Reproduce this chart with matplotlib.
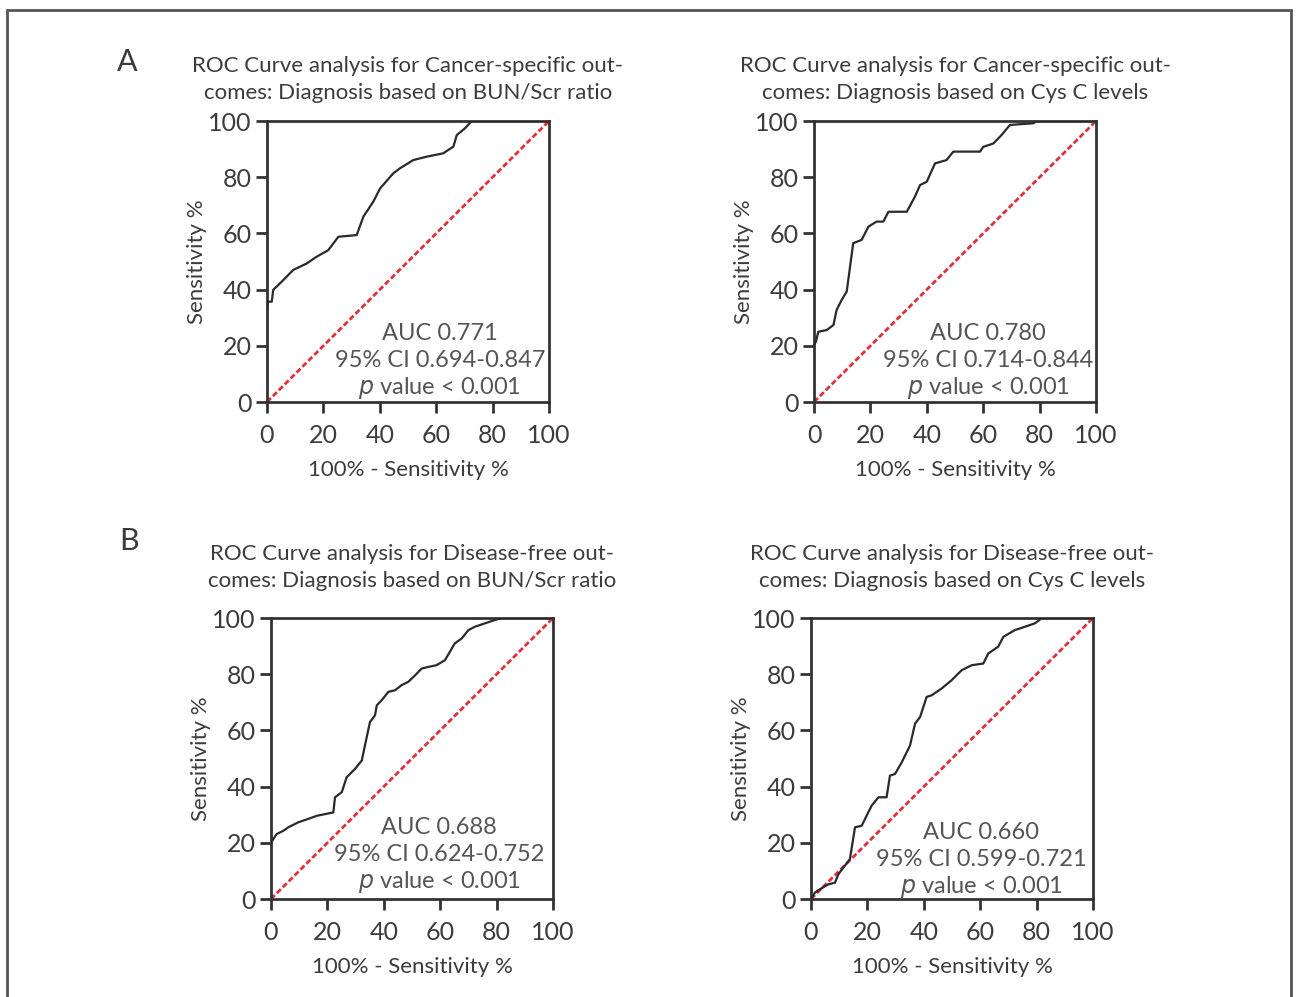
import matplotlib
matplotlib.use("Agg")
import matplotlib.pyplot as plt
from matplotlib.patches import Rectangle

plt.rcParams['font.family'] = ['Lato', 'DejaVu Sans']

# ROC curve points (100% - specificity, sensitivity)
a1_x = [0, 0, 0.5, 1.7, 2.2, 5.2, 9.3, 14.1, 17.6, 21.7, 25.3, 31.8, 34.2, 37.7,
        40.1, 44.8, 47.2, 51.9, 56.6, 62.5, 66.1, 67.3, 70.2, 72.6, 100]
a1_y = [32.7, 34.0, 35.7, 35.7, 39.9, 42.8, 47.0, 49.3, 51.7, 54.0, 58.8, 59.4, 66.0, 71.3,
        76.0, 81.4, 83.2, 86.1, 87.3, 88.5, 90.9, 95.0, 97.4, 100, 100]

a2_x = [0, 0.7, 1.5, 4.5, 6.9, 8.0, 9.8, 11.6, 13.9, 16.9, 19.3, 22.2, 24.6, 26.4,
        32.9, 35.8, 37.6, 40.0, 42.9, 47.0, 49.4, 58.9, 60.0, 63.6, 66.5, 69.5, 77.8, 79.0, 100]
a2_y = [20.3, 21.5, 25.0, 25.6, 27.4, 32.7, 36.3, 39.3, 56.5, 57.7, 62.4, 64.2, 64.2, 67.7,
        67.7, 73.1, 77.2, 78.4, 84.9, 86.1, 89.1, 89.1, 90.8, 92.0, 95.0, 98.6, 99.2, 100, 100]

b1_x = [0, 0.8, 2.0, 4.4, 6.1, 9.7, 13.2, 16.2, 19.1, 22.1, 22.7, 25.1, 26.8, 29.8,
        32.2, 33.3, 35.1, 36.9, 37.5, 39.2, 41.6, 44.0, 46.3, 48.7, 51.1, 53.4, 55.8,
        58.7, 61.7, 65.2, 67.6, 70.0, 72.3, 75.9, 79.4, 81.8, 100]
b1_y = [20.1, 21.3, 23.1, 24.3, 25.5, 27.3, 28.5, 29.6, 30.2, 30.8, 36.2, 38.0, 43.3, 46.3,
        49.3, 54.6, 63.0, 65.4, 68.9, 70.7, 73.7, 74.3, 76.1, 77.3, 79.6, 82.0, 82.6,
        83.2, 85.0, 91.0, 92.7, 95.7, 96.9, 98.1, 99.3, 100, 100]

b2_x = [0, 1.4, 3.2, 6.1, 8.5, 9.7, 11.5, 13.8, 15.6, 18.0, 19.7, 21.5, 23.9, 26.8,
        28.0, 29.8, 32.2, 35.1, 36.9, 38.7, 41.0, 42.8, 46.3, 49.9, 53.4, 57.0, 61.1,
        62.9, 66.4, 68.2, 72.3, 75.9, 79.4, 81.8, 82.4, 100]
b2_y = [0, 2.3, 3.5, 5.2, 5.8, 8.8, 11.2, 14.2, 25.5, 26.1, 29.6, 33.2, 36.2, 36.2,
        43.9, 44.5, 48.7, 54.6, 62.4, 64.8, 71.9, 72.5, 74.9, 77.9, 81.4, 83.2, 83.8,
        87.4, 89.8, 93.3, 95.7, 96.9, 98.1, 99.9, 100, 100]

titles = [
    "ROC Curve analysis for Cancer-specific out-\ncomes: Diagnosis based on BUN/Scr ratio",
    "ROC Curve analysis for Cancer-specific out-\ncomes: Diagnosis based on Cys C levels",
    "ROC Curve analysis for Disease-free out-\ncomes: Diagnosis based on BUN/Scr ratio",
    "ROC Curve analysis for Disease-free out-\ncomes: Diagnosis based on Cys C levels",
]
auc_labels = ["AUC 0.771", "AUC 0.780", "AUC 0.688", "AUC 0.660"]
ci_labels = ["95% CI 0.694-0.847", "95% CI 0.714-0.844",
             "95% CI 0.624-0.752", "95% CI 0.599-0.721"]
ticks = [0, 20, 40, 60, 80, 100]

curves = [(a1_x, a1_y), (a2_x, a2_y), (b1_x, b1_y), (b2_x, b2_y)]
# axes rectangles in figure pixels: left, top of plotting area
boxes = [(267, 121), (814, 121), (271, 618), (811, 618)]
title_pad = [16, 16, 22, 22]
text_x = [0.613, 0.617, 0.596, 0.603]
text_y0 = [0.244, 0.244, 0.254, 0.236]

W, H = 1296, 997
TXT = '#3c3c3c'

fig = plt.figure(figsize=(W / 100, H / 100), dpi=100)
fig.patches.append(Rectangle((7 / W, -0.01), (1291 - 7) / W, 1 - 10 / H + 0.01,
                             transform=fig.transFigure, fill=False,
                             edgecolor='#555555', linewidth=2))

for i, ((cx, cy), (left, top)) in enumerate(zip(curves, boxes)):
    ax = fig.add_axes([left / W, 1 - (top + 281) / H, 282 / W, 281 / H])
    ax.plot([0, 100], [0, 100], color='#e0303a', linestyle=(0, (2, 1.0)), linewidth=2, zorder=2)
    ax.plot(cx, cy, color='#2a2a2a', linewidth=1.6, zorder=3)
    ax.set_xlim(0, 100)
    ax.set_ylim(0, 100)
    ax.set_xticks(ticks)
    ax.set_yticks(ticks)
    ax.tick_params(direction='out', length=8, width=2, colors='#333333',
                   labelsize=18, labelcolor=TXT)
    ax.tick_params(axis='x', pad=8)
    ax.tick_params(axis='y', pad=3)
    for s in ax.spines.values():
        s.set_linewidth(2)
        s.set_color('#333333')
    ax.set_xlabel("100% - Sensitivity %", fontsize=16, color=TXT, labelpad=9)
    ax.set_ylabel("Sensitivity %", fontsize=16, color=TXT, labelpad=1)
    ax.set_title(titles[i], fontsize=16, color=TXT, pad=title_pad[i], linespacing=1.45)
    tx = text_x[i]
    ty = text_y0[i]
    ax.text(tx, ty, auc_labels[i], transform=ax.transAxes, ha='center', va='center',
            fontsize=17, color='#555555')
    ax.text(tx, ty - 0.097, ci_labels[i], transform=ax.transAxes, ha='center', va='center',
            fontsize=17, color='#555555')
    ax.text(tx, ty - 0.194, r"$\it{p}$ value < 0.001", transform=ax.transAxes,
            ha='center', va='center', fontsize=17, color='#555555')

fig.text(127 / W, 1 - 62 / H, "A", fontsize=22, color=TXT, ha='center', va='center')
fig.text(129 / W, 1 - 541 / H, "B", fontsize=22, color=TXT, ha='center', va='center')

fig.savefig("out.png", dpi=100)
